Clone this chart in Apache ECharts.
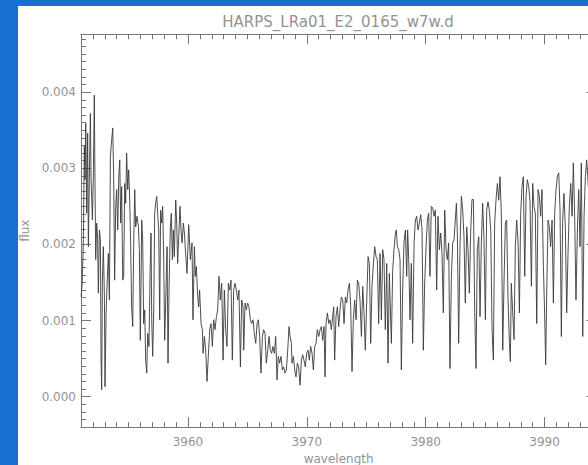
<!DOCTYPE html>
<html>
<head>
<meta charset="utf-8">
<title>HARPS_LRa01_E2_0165_w7w.d</title>
<script src="https://cdn.jsdelivr.net/npm/echarts@6/dist/echarts.min.js"></script>
<style>
  html, body { margin: 0; padding: 0; background: #ffffff; }
  #chart { width: 588px; height: 465px; }
</style>
</head>
<body>
<div id="chart"></div>
<script>
// Spectrum plot: flux against wavelength around the Ca II H line.
const TITLE = 'HARPS_LRa01_E2_0165_w7w.d';
const X_NAME = 'wavelength';
const Y_NAME = 'flux';
const X_TICKS = [3960, 3970, 3980, 3990];
const Y_TICKS = [0.000, 0.001, 0.002, 0.003, 0.004];
const X_RANGE = [3951, 3994.35];
const Y_RANGE = [-0.0004, 0.00476];

const wavelength = [
  3951.01, 3951.11, 3951.20, 3951.28, 3951.34, 3951.40, 3951.48, 3951.56, 3951.62, 3951.70,
  3951.79, 3951.84, 3951.96, 3952.04, 3952.12, 3952.18, 3952.24, 3952.32, 3952.40, 3952.46,
  3952.55, 3952.63, 3952.69, 3952.74, 3952.80, 3952.88, 3952.97, 3953.02, 3953.11, 3953.19,
  3953.30, 3953.39, 3953.47, 3953.58, 3953.67, 3953.75, 3953.83, 3953.92, 3954.00, 3954.09,
  3954.17, 3954.26, 3954.34, 3954.42, 3954.51, 3954.59, 3954.68, 3954.76, 3954.84, 3954.93,
  3955.01, 3955.10, 3955.18, 3955.26, 3955.35, 3955.43, 3955.52, 3955.60, 3955.71, 3955.83,
  3955.91, 3955.99, 3956.11, 3956.19, 3956.27, 3956.36, 3956.44, 3956.53, 3956.61, 3956.72,
  3956.81, 3956.89, 3956.95, 3957.03, 3957.12, 3957.20, 3957.28, 3957.37, 3957.45, 3957.54,
  3957.62, 3957.70, 3957.79, 3957.87, 3957.96, 3958.04, 3958.13, 3958.24, 3958.32, 3958.41,
  3958.52, 3958.60, 3958.69, 3958.77, 3958.85, 3958.97, 3959.05, 3959.13, 3959.22, 3959.33,
  3959.41, 3959.50, 3959.61, 3959.70,
  3959.78, 3959.92, 3960.06, 3960.20, 3960.34, 3960.42, 3960.54, 3960.62, 3960.70, 3960.82,
  3960.90, 3960.98, 3961.10, 3961.21, 3961.27, 3961.38, 3961.49, 3961.60, 3961.71, 3961.83,
  3961.94, 3962.05, 3962.16, 3962.27, 3962.39, 3962.50, 3962.61, 3962.72, 3962.84, 3962.95,
  3963.06, 3963.17, 3963.28, 3963.40, 3963.51, 3963.62, 3963.73, 3963.84, 3963.96, 3964.07,
  3964.18, 3964.29, 3964.41, 3964.52, 3964.63, 3964.69, 3964.80, 3964.91, 3965.02, 3965.13,
  3965.25, 3965.36, 3965.47, 3965.58, 3965.70, 3965.81, 3965.92, 3966.03, 3966.14, 3966.26,
  3966.37, 3966.48, 3966.59, 3966.71, 3966.82, 3966.93, 3967.04, 3967.15, 3967.27, 3967.38,
  3967.49, 3967.60, 3967.71, 3967.83, 3967.94, 3968.05, 3968.16, 3968.28, 3968.39, 3968.50,
  3968.59, 3968.70, 3968.75, 3968.87, 3968.98, 3969.09, 3969.20, 3969.31, 3969.43, 3969.54,
  3969.65, 3969.76, 3969.87, 3969.99, 3970.10, 3970.21, 3970.32, 3970.44, 3970.55, 3970.66,
  3970.77, 3970.88, 3971.00, 3971.11, 3971.22, 3971.33, 3971.45, 3971.53, 3971.61, 3971.73,
  3971.84, 3971.95, 3972.06, 3972.17, 3972.26, 3972.34, 3972.45, 3972.57, 3972.68, 3972.79,
  3972.90, 3973.02, 3973.13, 3973.24, 3973.35, 3973.46, 3973.58, 3973.69, 3973.80, 3973.91,
  3974.02, 3974.14, 3974.25, 3974.36, 3974.47, 3974.59, 3974.70, 3974.81, 3974.92, 3975.03,
  3975.15, 3975.26, 3975.37, 3975.48, 3975.60, 3975.71, 3975.82, 3975.93, 3976.04, 3976.16,
  3976.27, 3976.38, 3976.49, 3976.60, 3976.72, 3976.83, 3976.94,
  3977.11, 3977.22, 3977.33, 3977.45, 3977.53, 3977.61, 3977.73, 3977.84, 3977.95, 3978.06,
  3978.17, 3978.29, 3978.40, 3978.48, 3978.57, 3978.68, 3978.79, 3978.90, 3979.02, 3979.13,
  3979.24, 3979.35, 3979.46, 3979.58, 3979.69, 3979.80, 3979.91, 3980.03, 3980.14, 3980.25,
  3980.36, 3980.47, 3980.59, 3980.70, 3980.81, 3980.92, 3981.03, 3981.15, 3981.26, 3981.37,
  3981.48, 3981.60, 3981.71, 3981.82, 3981.93, 3982.04, 3982.16, 3982.27, 3982.38, 3982.49,
  3982.58, 3982.66, 3982.77, 3982.89, 3983.00, 3983.11, 3983.22, 3983.33, 3983.45, 3983.56,
  3983.67, 3983.78, 3983.89, 3984.01, 3984.12, 3984.23, 3984.34, 3984.46, 3984.57, 3984.68,
  3984.79, 3984.90, 3985.02, 3985.13,
  3985.24, 3985.35, 3985.47, 3985.58, 3985.69, 3985.80, 3985.91, 3986.03, 3986.14, 3986.25,
  3986.36, 3986.48, 3986.59, 3986.70, 3986.81, 3986.92, 3987.04, 3987.12, 3987.20, 3987.32,
  3987.43, 3987.54, 3987.65, 3987.77, 3987.88, 3987.99, 3988.10, 3988.21, 3988.33, 3988.44,
  3988.55, 3988.66, 3988.77, 3988.89, 3989.00, 3989.11, 3989.22, 3989.34, 3989.45, 3989.56,
  3989.67, 3989.78, 3989.90, 3990.01, 3990.09, 3990.18, 3990.29, 3990.40, 3990.51, 3990.63,
  3990.74, 3990.85, 3990.96, 3991.07, 3991.19, 3991.30, 3991.41, 3991.52, 3991.63, 3991.75,
  3991.86, 3991.97, 3992.08, 3992.20, 3992.31, 3992.42, 3992.53, 3992.64, 3992.76, 3992.87,
  3992.98, 3993.09, 3993.21, 3993.32, 3993.43, 3993.54, 3993.68
];

const flux = [
  0.00131, 0.00153, 0.00206, 0.00329, 0.00285, 0.00359, 0.00241, 0.00346, 0.00197, 0.00285,
  0.00372, 0.00289, 0.00232, 0.00294, 0.00396, 0.00276, 0.00180, 0.00228, 0.00206, 0.00136,
  0.00219, 0.00206, 0.00044, 0.00009, 0.00153, 0.00197, 0.00131, 0.00013, 0.00110, 0.00145,
  0.00188, 0.00127, 0.00315, 0.00337, 0.00353, 0.00285, 0.00153, 0.00250, 0.00272, 0.00219,
  0.00285, 0.00311, 0.00228, 0.00276, 0.00153, 0.00158, 0.00280, 0.00254, 0.00320, 0.00272,
  0.00298, 0.00258, 0.00197, 0.00118, 0.00092, 0.00197, 0.00272, 0.00223, 0.00237, 0.00223,
  0.00193, 0.00074, 0.00232, 0.00206, 0.00096, 0.00114, 0.00048, 0.00031, 0.00083, 0.00066,
  0.00162, 0.00215, 0.00101, 0.00053, 0.00114, 0.00241, 0.00254, 0.00263, 0.00241, 0.00219,
  0.00101, 0.00245, 0.00228, 0.00250, 0.00180, 0.00074, 0.00127, 0.00197, 0.00044, 0.00145,
  0.00223, 0.00241, 0.00180, 0.00219, 0.00184, 0.00258, 0.00228, 0.00175, 0.00210, 0.00250,
  0.00219, 0.00202, 0.00228, 0.00215,
  0.00193, 0.00162, 0.00226, 0.00180, 0.00202, 0.00101, 0.00197, 0.00158, 0.00171, 0.00131,
  0.00118, 0.00140, 0.00096, 0.00088, 0.00057, 0.00079, 0.00061, 0.00020, 0.00053, 0.00088,
  0.00096, 0.00066, 0.00101, 0.00088, 0.00105, 0.00114, 0.00158, 0.00127, 0.00149, 0.00048,
  0.00140, 0.00088, 0.00066, 0.00149, 0.00140, 0.00153, 0.00048, 0.00140, 0.00149, 0.00140,
  0.00127, 0.00140, 0.00039, 0.00127, 0.00118, 0.00061, 0.00123, 0.00114, 0.00123, 0.00118,
  0.00101, 0.00096, 0.00101, 0.00083, 0.00070, 0.00096, 0.00101, 0.00079, 0.00031, 0.00079,
  0.00088, 0.00083, 0.00044, 0.00061, 0.00079, 0.00061, 0.00057, 0.00066, 0.00057, 0.00079,
  0.00022, 0.00053, 0.00044, 0.00053, 0.00035, 0.00039, 0.00031, 0.00035, 0.00061, 0.00092,
  0.00079, 0.00070, 0.00044, 0.00053, 0.00035, 0.00026, 0.00044, 0.00039, 0.00015, 0.00048,
  0.00055, 0.00048, 0.00039, 0.00057, 0.00061, 0.00048, 0.00066, 0.00057, 0.00035, 0.00066,
  0.00070, 0.00088, 0.00079, 0.00088, 0.00092, 0.00074, 0.00092, 0.00026, 0.00096, 0.00110,
  0.00096, 0.00101, 0.00088, 0.00105, 0.00118, 0.00048, 0.00105, 0.00118, 0.00092, 0.00114,
  0.00131, 0.00127, 0.00096, 0.00131, 0.00123, 0.00140, 0.00149, 0.00118, 0.00033, 0.00101,
  0.00127, 0.00101, 0.00153, 0.00149, 0.00127, 0.00079, 0.00145, 0.00110, 0.00061, 0.00123,
  0.00184, 0.00175, 0.00070, 0.00145, 0.00175, 0.00197, 0.00184, 0.00180, 0.00096, 0.00188,
  0.00101, 0.00193, 0.00180, 0.00088, 0.00175, 0.00044, 0.00162,
  0.00070, 0.00166, 0.00193, 0.00215, 0.00219, 0.00197, 0.00193, 0.00180, 0.00035, 0.00140,
  0.00202, 0.00219, 0.00158, 0.00219, 0.00180, 0.00101, 0.00175, 0.00070, 0.00202, 0.00232,
  0.00237, 0.00219, 0.00228, 0.00239, 0.00219, 0.00061, 0.00149, 0.00197, 0.00232, 0.00241,
  0.00158, 0.00250, 0.00248, 0.00237, 0.00245, 0.00140, 0.00237, 0.00193, 0.00215, 0.00188,
  0.00110, 0.00245, 0.00193, 0.00180, 0.00202, 0.00037, 0.00158, 0.00202, 0.00206, 0.00232,
  0.00254, 0.00215, 0.00070, 0.00202, 0.00263, 0.00245, 0.00210, 0.00123, 0.00223, 0.00193,
  0.00136, 0.00215, 0.00259, 0.00259, 0.00114, 0.00037, 0.00193, 0.00210, 0.00105, 0.00202,
  0.00254, 0.00206, 0.00101, 0.00245,
  0.00256, 0.00245, 0.00219, 0.00088, 0.00048, 0.00228, 0.00258, 0.00280, 0.00258, 0.00289,
  0.00241, 0.00061, 0.00153, 0.00228, 0.00232, 0.00131, 0.00070, 0.00046, 0.00149, 0.00110,
  0.00075, 0.00197, 0.00232, 0.00202, 0.00110, 0.00241, 0.00276, 0.00289, 0.00158, 0.00263,
  0.00285, 0.00276, 0.00258, 0.00145, 0.00280, 0.00250, 0.00241, 0.00096, 0.00272, 0.00263,
  0.00237, 0.00272, 0.00171, 0.00105, 0.00042, 0.00136, 0.00232, 0.00223, 0.00197, 0.00232,
  0.00123, 0.00241, 0.00272, 0.00289, 0.00294, 0.00245, 0.00079, 0.00232, 0.00267, 0.00219,
  0.00110, 0.00188, 0.00250, 0.00280, 0.00237, 0.00307, 0.00237, 0.00127, 0.00219, 0.00272,
  0.00197, 0.00307, 0.00079, 0.00237, 0.00289, 0.00311, 0.00276
];

const AXIS_GREY = '#767676';
const TEXT_GREY = '#939393';
const FONT = 'DejaVu Sans';
const FRAME_BLUE = '#1570d0';

const spectrum = wavelength.map((w, i) => [w, flux[i]]);

const lineStyle = { color: AXIS_GREY, width: 1 };

function majorX(position, labelled) {
  return {
    type: 'value', gridIndex: 0, position: position,
    min: X_RANGE[0], max: X_RANGE[1],
    axisLine: { show: true, onZero: false, lineStyle: lineStyle },
    axisTick: { show: true, inside: true, length: 10, customValues: X_TICKS, lineStyle: lineStyle },
    axisLabel: labelled ? {
      show: true, customValues: X_TICKS, color: TEXT_GREY, fontFamily: FONT, fontSize: 12, margin: 9,
      formatter: v => String(v)
    } : { show: false },
    splitLine: { show: false },
    name: labelled ? X_NAME : '',
    nameLocation: 'middle', nameGap: 25,
    nameTextStyle: { color: TEXT_GREY, fontFamily: FONT, fontSize: 12 }
  };
}
function minorX(position) {
  return {
    type: 'value', gridIndex: 0, position: position,
    min: X_RANGE[0], max: X_RANGE[1], interval: 1,
    axisLine: { show: false, onZero: false },
    axisTick: { show: true, inside: true, length: 5, lineStyle: lineStyle },
    axisLabel: { show: false },
    splitLine: { show: false }
  };
}
function majorY(position, labelled) {
  return {
    type: 'value', gridIndex: 0, position: position,
    min: Y_RANGE[0], max: Y_RANGE[1],
    axisLine: { show: true, onZero: false, lineStyle: lineStyle },
    axisTick: { show: true, inside: true, length: 10, customValues: Y_TICKS, lineStyle: lineStyle },
    axisLabel: labelled ? {
      show: true, customValues: Y_TICKS, color: TEXT_GREY, fontFamily: FONT, fontSize: 12, margin: 5,
      formatter: v => Math.abs(v).toFixed(3)
    } : { show: false },
    splitLine: { show: false },
    name: labelled ? Y_NAME : '',
    nameLocation: 'middle', nameGap: 50,
    nameTextStyle: { color: TEXT_GREY, fontFamily: FONT, fontSize: 12 }
  };
}
function minorY(position) {
  return {
    type: 'value', gridIndex: 0, position: position,
    min: Y_RANGE[0], max: Y_RANGE[1], interval: 0.0001,
    axisLine: { show: false, onZero: false },
    axisTick: { show: true, inside: true, length: 5, lineStyle: lineStyle },
    axisLabel: { show: false },
    splitLine: { show: false }
  };
}

const chart = echarts.init(document.getElementById('chart'), null, { renderer: 'svg', width: 588, height: 465 });

chart.setOption({
  animation: false,
  backgroundColor: '#ffffff',
  grid: {
    left: 81, top: 34.3, width: 515.3, height: 392.8,
    containLabel: false, outerBoundsMode: 'none'
  },
  graphic: [
    { type: 'rect', shape: { x: 0, y: 0, width: 18, height: 465 }, style: { fill: FRAME_BLUE }, silent: true },
    { type: 'rect', shape: { x: 0, y: 0, width: 588, height: 6 }, style: { fill: FRAME_BLUE }, silent: true },
    {
      type: 'text', x: 338, y: 22, silent: true,
      style: {
        text: TITLE, fill: TEXT_GREY, fontFamily: FONT, fontSize: 15,
        align: 'center', verticalAlign: 'middle'
      }
    }
  ],
  xAxis: [majorX('bottom', true), minorX('bottom'), majorX('top', false), minorX('top')],
  yAxis: [majorY('left', true), minorY('left'), majorY('right', false), minorY('right')],
  series: [{
    type: 'line',
    xAxisIndex: 0, yAxisIndex: 0,
    data: spectrum,
    showSymbol: false, symbol: 'none',
    lineStyle: { color: '#3a3a3a', width: 0.9 },
    silent: true, clip: true
  }]
});
</script>
</body>
</html>
